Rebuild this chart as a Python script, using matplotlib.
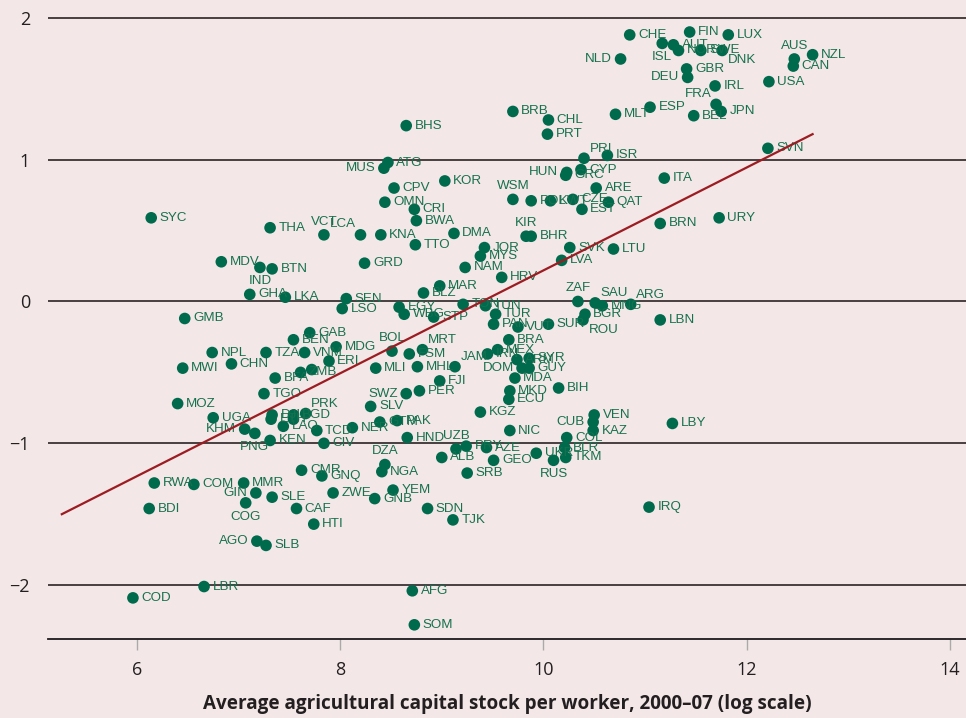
import matplotlib
matplotlib.use("Agg")
import matplotlib.pyplot as plt

# country codes, agricultural capital per worker (log) and productivity index
# ('n/a' = dot whose label cannot be read in the source)
codes = ['CHE', 'NLD', 'BRB', 'CHL', 'PRT', 'BHS', 'MLT', 'ESP', 'PRI', 'ISR',
         'ATG', 'MUS', 'HUN', 'GRC', 'CYP', 'FIN', 'LUX', 'ISL', 'AUT', 'NOR',
         'SWE', 'DNK', 'GBR', 'DEU', 'IRL', 'FRA', 'JPN', 'BEL', 'USA', 'AUS',
         'CAN', 'NZL', 'SVN', 'SYC', 'THA', 'VCT', 'LCA', 'MDV', 'IND', 'BTN',
         'GHA', 'LKA', 'SEN', 'LSO', 'GMB', 'KOR', 'CPV', 'OMN', 'CRI', 'BWA',
         'KNA', 'DMA', 'TTO', 'GRD', 'JOR', 'MYS', 'NAM', 'HRV', 'MAR', 'BLZ',
         'EGY', 'WBG', 'STP', 'TON', 'TUN', 'TUR', 'PAN', 'WSM', 'POL', 'KWT',
         'CZE', 'EST', 'ARE', 'QAT', 'KIR', 'BHR', 'SVK', 'LTU', 'LVA', 'ZAF',
         'SAU', 'MNG', 'BGR', 'ROU', 'ARG', 'SUR', 'VUT', 'ITA', 'BRN', 'URY',
         'LBN', 'GAB', 'BEN', 'MDG', 'NPL', 'TZA', 'VNM', 'ERI', 'MWI', 'CHN',
         'BFA', 'ZMB', 'n/a', 'TGO', 'MOZ', 'UGA', 'KHM', 'PNG', 'KEN', 'CIV',
         'CMR', 'GNQ', 'RWA', 'COM', 'MMR', 'GIN', 'SLE', 'COG', 'BDI', 'CAF',
         'ZWE', 'HTI', 'AGO', 'SLB', 'LBR', 'COD', 'YEM', 'GNB', 'SDN', 'TJK',
         'IRQ', 'AFG', 'SOM', 'BRA', 'BOL', 'MRT', 'FSM', 'MLI', 'MHL', 'JAM',
         'IRN', 'MEX', 'ARM', 'SYR', 'DOM', 'GUY', 'MDA', 'FJI', 'PER', 'SWZ',
         'SLV', 'BIH', 'MKD', 'ECU', 'KGZ', 'NER', 'GTM', 'PAK', 'HND', 'NIC',
         'VEN', 'CUB', 'KAZ', 'COL', 'UZB', 'PRY', 'AZE', 'ALB', 'GEO', 'SRB',
         'DZA', 'NGA', 'UKR', 'RUS', 'BLR', 'TKM', 'LBY', 'DJI', 'ETH', 'BGD',
         'n/a', 'PRK', 'LAO', 'TCD']

capital = [10.85, 10.76, 9.70, 10.05, 10.04, 8.65, 10.71, 11.05, 10.40, 10.63,
           8.47, 8.43, 10.23, 10.22, 10.37, 11.44, 11.82, 11.17, 11.28, 11.33,
           11.55, 11.76, 11.41, 11.42, 11.69, 11.70, 11.75, 11.48, 12.22, 12.47,
           12.46, 12.65, 12.21, 6.14, 7.31, 7.84, 8.20, 6.83, 7.21, 7.33,
           7.11, 7.46, 8.06, 8.02, 6.47, 9.03, 8.53, 8.44, 8.73, 8.75,
           8.40, 9.12, 8.74, 8.24, 9.42, 9.38, 9.23, 9.59, 8.98, 8.82,
           8.58, 8.63, 8.92, 9.21, 9.43, 9.53, 9.51, 9.70, 9.88, 10.07,
           10.29, 10.38, 10.52, 10.64, 9.83, 9.88, 10.26, 10.69, 10.18, 10.34,
           10.51, 10.58, 10.41, 10.39, 10.86, 10.05, 9.75, 11.19, 11.15, 11.73,
           11.15, 7.70, 7.54, 7.96, 6.74, 7.27, 7.65, 7.89, 6.45, 6.93,
           7.36, 7.61, 7.72, 7.25, 6.40, 6.75, 7.06, 7.16, 7.31, 7.84,
           7.62, 7.82, 6.17, 6.56, 7.05, 7.17, 7.33, 7.07, 6.12, 7.57,
           7.93, 7.74, 7.18, 7.27, 6.66, 5.96, 8.52, 8.34, 8.86, 9.11,
           11.04, 8.71, 8.73, 9.66, 8.51, 8.81, 8.68, 8.35, 8.76, 9.13,
           9.45, 9.55, 9.74, 9.86, 9.79, 9.86, 9.72, 8.98, 8.78, 8.65,
           8.30, 10.15, 9.67, 9.66, 9.38, 8.12, 8.39, 8.56, 8.66, 9.67,
           10.50, 10.49, 10.49, 10.23, 9.14, 9.24, 9.44, 9.00, 9.51, 9.25,
           8.44, 8.41, 9.93, 10.10, 10.21, 10.22, 11.27, 7.33, 7.32, 7.54,
           7.54, 7.66, 7.44, 7.77]

productivity = [1.88, 1.71, 1.34, 1.28, 1.18, 1.24, 1.32, 1.37, 1.01, 1.03,
                0.98, 0.94, 0.91, 0.89, 0.93, 1.90, 1.88, 1.82, 1.81, 1.77,
                1.77, 1.77, 1.64, 1.58, 1.52, 1.39, 1.34, 1.31, 1.55, 1.71,
                1.66, 1.74, 1.08, 0.59, 0.52, 0.47, 0.47, 0.28, 0.24, 0.23,
                0.05, 0.03, 0.02, -0.05, -0.12, 0.85, 0.80, 0.70, 0.65, 0.57,
                0.47, 0.48, 0.40, 0.27, 0.38, 0.32, 0.24, 0.17, 0.11, 0.06,
                -0.04, -0.09, -0.11, -0.02, -0.03, -0.09, -0.16, 0.72, 0.71, 0.71,
                0.72, 0.65, 0.80, 0.70, 0.46, 0.46, 0.38, 0.37, 0.29, 0.00,
                -0.01, -0.03, -0.09, -0.13, -0.02, -0.16, -0.18, 0.87, 0.55, 0.59,
                -0.13, -0.22, -0.27, -0.32, -0.36, -0.36, -0.36, -0.42, -0.47, -0.44,
                -0.54, -0.50, -0.48, -0.65, -0.72, -0.82, -0.90, -0.93, -0.98, -1.00,
                -1.19, -1.23, -1.28, -1.29, -1.28, -1.35, -1.38, -1.42, -1.46, -1.46,
                -1.35, -1.57, -1.69, -1.72, -2.01, -2.09, -1.33, -1.39, -1.46, -1.54,
                -1.45, -2.04, -2.28, -0.27, -0.35, -0.34, -0.37, -0.47, -0.46, -0.46,
                -0.37, -0.34, -0.41, -0.40, -0.47, -0.47, -0.54, -0.56, -0.63, -0.65,
                -0.74, -0.61, -0.63, -0.69, -0.78, -0.89, -0.85, -0.84, -0.96, -0.91,
                -0.80, -0.85, -0.91, -0.96, -1.04, -1.02, -1.03, -1.10, -1.12, -1.21,
                -1.15, -1.20, -1.07, -1.12, -1.03, -1.10, -0.86, -0.80, -0.83, -0.80,
                -0.83, -0.79, -0.88, -0.91]

# fitted line end points
fit_x = [5.26, 12.65]
fit_y = [-1.50, 1.18]

x_ticks = [6, 8, 10, 12, 14]
y_ticks = [-2, -1, 0, 1, 2]
x_title = 'Average agricultural capital stock per worker, 2000\u201307 (log scale)'

# where a label sits relative to its dot (default: right)
label_side = {
    'NLD': 'left', 'DEU': 'left', 'MUS': 'left', 'HUN': 'left', 'KHM': 'left',
    'GIN': 'left', 'AGO': 'left', 'SWZ': 'left', 'CUB': 'left', 'DOM': 'left',
    'ISL': 'below', 'IND': 'below', 'PNG': 'below', 'COG': 'below', 'RUS': 'below',
    'AUS': 'above', 'WSM': 'above', 'KIR': 'above', 'ZAF': 'above', 'VCT': 'above',
    'BOL': 'above', 'UZB': 'above', 'DZA': 'above',
    'FRA': 'upleft', 'LCA': 'upleft',
    'PRI': 'upright', 'SAU': 'upright', 'ARG': 'upright', 'MRT': 'upright',
    'JAM': 'upright', 'PRK': 'upright',
    'DNK': 'downright', 'ROU': 'downright',
}
offsets = {
    'right': (6, 0, 'left'),
    'left': (-6, 0, 'right'),
    'above': (0, 9.5, 'center'),
    'below': (0, -10, 'center'),
    'upleft': (-3, 7.5, 'right'),
    'upright': (4, 7, 'left'),
    'downright': (4, -7, 'left'),
}

bg = '#f3e7e7'
dot_col = '#006a4c'
txt_col = '#16714f'

fig = plt.figure(figsize=(9.66, 7.18), dpi=100)
fig.patch.set_facecolor(bg)
ax = fig.add_axes([48 / 966, 79 / 718, 918 / 966, 622 / 718])
ax.set_facecolor(bg)

for yv in y_ticks:
    ax.axhline(yv, color='#2a2324', lw=1.2, zorder=1)

ax.scatter(capital, productivity, s=70, color=dot_col, edgecolors='none', zorder=3)

for c, xv, yv in zip(codes, capital, productivity):
    if c == 'n/a':
        continue
    dx, dy, ha = offsets[label_side.get(c, 'right')]
    ax.annotate(c, (xv, yv), xytext=(dx, dy), textcoords='offset points',
                ha=ha, va='center', fontsize=9.6, color=txt_col,
                family='Liberation Sans', zorder=4)

ax.plot(fit_x, fit_y, color='#9c1c22', lw=1.6, zorder=5)

ax.set_xlim(5.124, 14.16)
ax.set_ylim(-2.38, 2.006)
for s in ['top', 'left', 'right']:
    ax.spines[s].set_visible(False)
ax.spines['bottom'].set_color('#1e1a1b')
ax.spines['bottom'].set_linewidth(1.3)

ax.set_xticks(x_ticks)
ax.set_yticks(y_ticks)
ax.set_yticklabels(['\u22122', '\u22121', '0', '1', '2'])
ax.tick_params(axis='y', length=0, pad=13, labelsize=13, labelcolor='#231f20')
ax.tick_params(axis='x', length=8, width=1, color='#aaaaaa', pad=8,
               labelsize=13, labelcolor='#231f20')
for lab in ax.get_xticklabels() + ax.get_yticklabels():
    lab.set_family('Open Sans')

ax.set_xlabel(x_title, fontsize=13.6, fontweight='bold', family='Open Sans',
              color='#231f20', labelpad=11)

fig.savefig('out.png', dpi=100, facecolor=bg)
